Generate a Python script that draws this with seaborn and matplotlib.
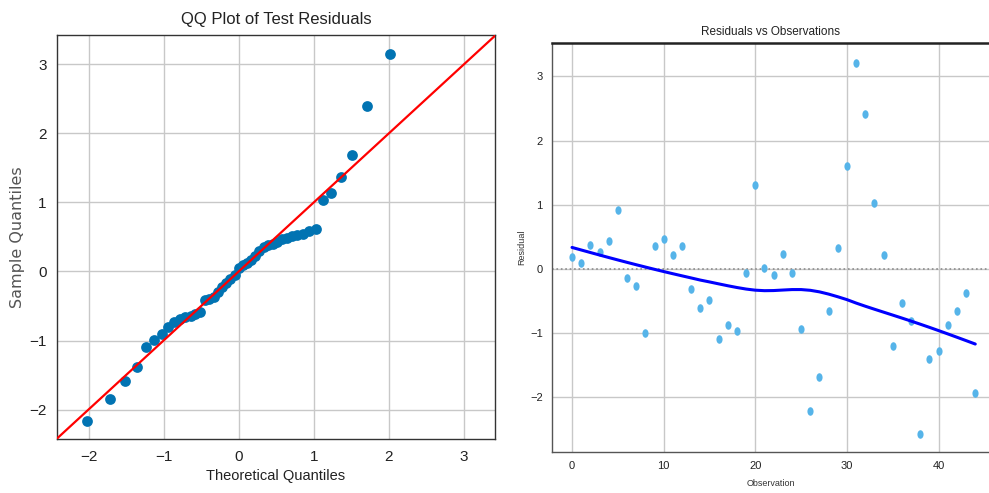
import numpy as np
import pandas as pd
import matplotlib
matplotlib.use("Agg")
import matplotlib.pyplot as plt
from matplotlib import font_manager
from matplotlib.path import Path
from matplotlib.transforms import Affine2D
import seaborn as sns

# ---------------- data ----------------
# QQ plot: theoretical normal quantiles (n = 45) and sorted sample residuals
theoretical_q = [-2.019, -1.712, -1.512, -1.360, -1.234, -1.125, -1.027, -0.939,
                 -0.857, -0.781, -0.709, -0.641, -0.575, -0.512, -0.451, -0.391,
                 -0.333, -0.276, -0.219, -0.164, -0.109, -0.0545, 0.0,
                 0.0545, 0.109, 0.164, 0.219, 0.276, 0.333, 0.391, 0.451,
                 0.512, 0.575, 0.641, 0.709, 0.781, 0.857, 0.939, 1.027,
                 1.125, 1.234, 1.360, 1.512, 1.712, 2.019]
sample_q = [-2.17, -1.84, -1.59, -1.38, -1.09, -0.99, -0.91, -0.80,
            -0.73, -0.69, -0.66, -0.64, -0.62, -0.58, -0.42, -0.40,
            -0.37, -0.29, -0.23, -0.16, -0.11, -0.05, 0.05,
            0.09, 0.12, 0.17, 0.23, 0.30, 0.35, 0.38, 0.40,
            0.43, 0.47, 0.49, 0.51, 0.53, 0.55, 0.58, 0.62,
            1.03, 1.14, 1.37, 1.68, 2.40, 3.15]

# Residuals vs observation index
observation = list(range(45))
residual = [0.18, 0.09, 0.37, 0.26, 0.43, 0.92, -0.14, -0.265, -1.00, 0.36,
            0.46, 0.22, 0.36, -0.31, -0.61, -0.49, -1.09, -0.87, -0.97, -0.07,
            1.30, 0.015, -0.10, 0.23, -0.07, -0.93, -2.21, -1.69, -0.65, 0.33,
            1.61, 3.21, 2.42, 1.02, 0.22, -1.21, -0.53, -0.81, -2.57, -1.40,
            -1.28, -0.88, -0.65, -0.37, -1.93]

qq_df = pd.DataFrame({"theoretical": theoretical_q, "sample": sample_q})
res_df = pd.DataFrame({"Observation": observation, "Residual": residual})

# ---------------- fonts ----------------
avail = {f.name for f in font_manager.fontManager.ttflist}
if "DejaVu Sans Condensed" in avail:
    cond = "DejaVu Sans Condensed"
elif "Liberation Sans Narrow" in avail:
    cond = "Liberation Sans Narrow"
else:
    cond = "Liberation Sans"

sns.set_style("white")
plt.rcParams["font.family"] = ["DejaVu Sans"]


def lowess_fit(x, y, frac=2 / 3, it=3):
    x = np.asarray(x, float)
    y = np.asarray(y, float)
    n = len(x)
    k = int(frac * n + 1e-10)
    rw = np.ones(n)
    fit = np.empty(n)
    for step in range(it + 1):
        for i in range(n):
            d = np.abs(x - x[i])
            h = np.sort(d)[k - 1]
            w = np.clip(d / h, 0, 1)
            w = (1 - w ** 3) ** 3 * rw
            W = w.sum()
            xm = (w * x).sum() / W
            ym = (w * y).sum() / W
            den = (w * (x - xm) ** 2).sum()
            b = (w * (x - xm) * (y - ym)).sum() / den if den > 1e-12 else 0.0
            fit[i] = ym + b * (x[i] - xm)
        if step < it:
            e = y - fit
            s = np.median(np.abs(e))
            u = np.clip(e / (6 * s), -1, 1)
            rw = (1 - u ** 2) ** 2
    return fit


fig = plt.figure(figsize=(9.89, 4.93), dpi=100)

# ---------------- left: QQ plot ----------------
ax1 = fig.add_axes([0.0576, 0.109, 0.4426, 0.8207])
ax1.grid(True, color="#c8c8c8", linewidth=1.0)
ax1.set_axisbelow(True)
sns.scatterplot(data=qq_df, x="theoretical", y="sample", ax=ax1,
                color="#0173b2", s=60, linewidth=0, zorder=3)
ax1.axline((0, 0), slope=1, color="red", linewidth=1.6, zorder=4)
ax1.set_xlim(-2.42, 3.41)
ax1.set_ylim(-2.43, 3.43)
ax1.set_xticks([-2, -1, 0, 1, 2, 3])
ax1.set_yticks([-2, -1, 0, 1, 2, 3])
ax1.tick_params(labelsize=11, length=4, color="#333333", labelcolor="#222222")
for lab in ax1.get_xticklabels() + ax1.get_yticklabels():
    lab.set_family(cond)
for sp in ax1.spines.values():
    sp.set_color("#333333")
    sp.set_linewidth(1.0)
ax1.set_title("QQ Plot of Test Residuals", fontsize=12, family=cond,
              color="#222222", pad=8)
ax1.set_xlabel("Theoretical Quantiles", fontsize=10.5, family=cond,
               color="#222222", labelpad=4)
ax1.set_ylabel("Sample Quantiles", fontsize=11.5, color="#555555", labelpad=3)

# ---------------- right: residuals vs observations ----------------
ax2 = fig.add_axes([0.558, 0.0838, 0.442, 0.829])
ax2.grid(True, color="#c8c8c8", linewidth=1.0)
ax2.set_axisbelow(True)
circ = Path.unit_circle()
ell = Path(Affine2D().scale(0.72, 1.0).transform(circ.vertices), circ.codes)
sns.scatterplot(data=res_df, x="Observation", y="Residual", ax=ax2,
                color="#56b4e9", s=38, linewidth=0, marker=ell, zorder=3)
ax2.axhline(0, ls=":", color="0.55", linewidth=1.2, zorder=2)
try:
    import statsmodels  # noqa: F401
    sns.regplot(data=res_df, x="Observation", y="Residual", ax=ax2,
                lowess=True, scatter=False, truncate=True,
                line_kws=dict(color="blue", linewidth=2.2, zorder=4))
except Exception:
    res_df["smooth"] = lowess_fit(res_df["Observation"], res_df["Residual"])
    sns.lineplot(data=res_df, x="Observation", y="smooth", ax=ax2,
                 color="blue", linewidth=2.2, zorder=4)
ax2.set_xlim(-2.2, 45.5)
ax2.set_ylim(-2.85, 3.52)
ax2.set_xticks([0, 10, 20, 30, 40])
ax2.set_yticks([-2, -1, 0, 1, 2, 3])
ax2.tick_params(labelsize=8, length=3, color="#333333", labelcolor="#222222")
for lab in ax2.get_xticklabels() + ax2.get_yticklabels():
    lab.set_family(cond)
for name, sp in ax2.spines.items():
    sp.set_color("#555555")
    sp.set_linewidth(1.0)
ax2.spines["top"].set_color("#222222")
ax2.spines["top"].set_linewidth(1.8)
ax2.spines["right"].set_visible(False)
ax2.set_title("Residuals vs Observations", fontsize=8.5, family=cond,
              color="#222222", pad=6)
ax2.set_xlabel("Observation", fontsize=6.5, family=cond, color="#333333",
               labelpad=6)
ax2.set_ylabel("Residual", fontsize=6.5, family=cond, color="#333333",
               labelpad=3)

fig.savefig("out.png", dpi=100)
